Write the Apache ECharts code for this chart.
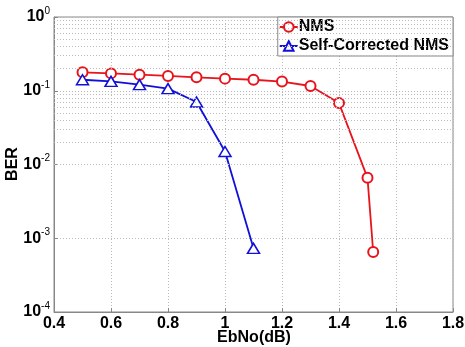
<!DOCTYPE html>
<html>
<head>
<meta charset="utf-8">
<script src="https://cdn.jsdelivr.net/npm/echarts@6/dist/echarts.min.js"></script>
<style>
  html, body { margin: 0; padding: 0; background: #fff; }
  #chart { width: 465px; height: 347px; }
</style>
</head>
<body>
<div id="chart"></div>
<script>
// data
const nmsX = [0.5, 0.6, 0.7, 0.8, 0.9, 1.0, 1.1, 1.2, 1.3, 1.4, 1.5, 1.52]
const nmsBer = [0.178, 0.172, 0.165, 0.159, 0.152, 0.146, 0.141, 0.133, 0.116, 0.068, 0.0066, 0.00065]
const scX = [0.5, 0.6, 0.7, 0.8, 0.9, 1.0, 1.1]
const scBer = [0.141, 0.134, 0.121, 0.107, 0.0703, 0.0150, 0.00073]
const xTicks = [0.4, 0.6, 0.8, 1, 1.2, 1.4, 1.6, 1.8]
const decades = [-4, -3, -2, -1, 0]

const font = 'Liberation Sans, Arial, sans-serif'
const red = '#e8141c'
const blue = '#1010d8'

// minor log gridlines 2..9 in each decade
const minorLines = []
decades.slice(0, -1).forEach(d => {
    for (let k = 2; k <= 9; k++) minorLines.push({ yAxis: k * Math.pow(10, d) })
})

const titleFont = { fontFamily: font, fontWeight: 'bold', fontSize: 16, fill: '#000' }

const chart = echarts.init(document.getElementById('chart'))
chart.setOption({
    animation: false,
    grid: {
        left: 54, right: 12, top: 17, bottom: 35,
        outerBoundsMode: 'none', containLabel: false,
        show: true, borderColor: '#888', borderWidth: 1, backgroundColor: 'transparent'
    },
    // axis titles
    graphic: [
        {
            type: 'text', x: 254, y: 338,
            style: Object.assign({ text: 'EbNo(dB)', align: 'center', verticalAlign: 'middle' }, titleFont)
        },
        {
            type: 'text', x: 12.5, y: 164, rotation: Math.PI / 2,
            style: Object.assign({ text: 'BER', align: 'center', verticalAlign: 'middle' }, titleFont)
        }
    ],
    legend: {
        right: 12, top: 17,
        orient: 'vertical',
        backgroundColor: '#fff',
        borderColor: '#888',
        borderWidth: 1,
        borderRadius: 0,
        padding: [2, 4, 2, 1],
        itemGap: 3,
        itemWidth: 18,
        itemHeight: 12,
        data: ['NMS', 'Self-Corrected NMS'],
        textStyle: { fontFamily: font, fontWeight: 'bold', fontSize: 16, color: '#000', padding: [0, 0, 0, -4] }
    },
    xAxis: {
        type: 'value',
        min: 0.4, max: 1.8, interval: 0.2,
        axisLine: { show: true, onZero: false, lineStyle: { color: '#888' } },
        axisTick: { inside: true, length: 4, lineStyle: { color: '#888' } },
        splitLine: { show: true, lineStyle: { color: '#bbb', type: [1, 2] } },
        axisLabel: {
            fontFamily: font, fontWeight: 'bold', fontSize: 16, color: '#000', margin: 4,
            formatter: v => xTicks.some(t => Math.abs(t - v) < 1e-9) ? String(+v.toFixed(1)) : ''
        }
    },
    yAxis: {
        type: 'log',
        logBase: 10,
        min: 1e-4, max: 1,
        axisLine: { show: true, lineStyle: { color: '#888' } },
        axisTick: { inside: true, length: 4, lineStyle: { color: '#888' } },
        splitLine: { show: true, lineStyle: { color: '#bbb', type: [1, 2] } },
        axisLabel: {
            margin: 4,
            formatter: v => '{b|10}{s|' + Math.round(Math.log10(v)) + '}',
            rich: {
                b: { fontFamily: font, fontWeight: 'bold', fontSize: 16, color: '#000' },
                s: { fontFamily: font, fontSize: 10, color: '#000', padding: [0, 0, 12, 0] }
            }
        }
    },
    series: [
        {
            name: 'grid-minor',
            type: 'line',
            data: [],
            silent: true,
            markLine: {
                silent: true,
                symbol: 'none',
                label: { show: false },
                lineStyle: { color: '#bbb', type: [1, 2], width: 1 },
                emphasis: { disabled: true },
                data: minorLines
            }
        },
        {
            name: 'NMS',
            type: 'line',
            data: nmsX.map((x, i) => [x, nmsBer[i]]),
            symbol: 'emptyCircle',
            symbolSize: 10,
            color: red,
            lineStyle: { width: 1.8, color: red },
            itemStyle: { borderWidth: 1.5 }
        },
        {
            name: 'Self-Corrected NMS',
            type: 'line',
            data: scX.map((x, i) => [x, scBer[i]]),
            symbol: 'path://M5,0 L10,9 L0,9 Z',
            symbolSize: [12, 10],
            color: blue,
            lineStyle: { width: 1.8, color: blue },
            itemStyle: { borderWidth: 1.5, color: '#fff', borderColor: blue }
        }
    ]
})
</script>
</body>
</html>
